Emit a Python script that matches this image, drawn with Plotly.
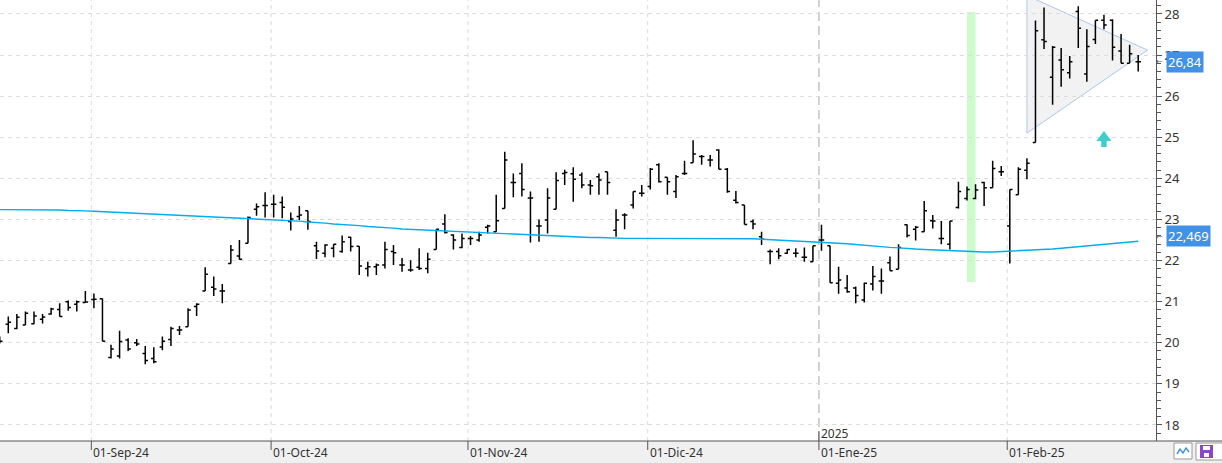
import plotly.graph_objects as go

# ---------------- data ----------------
trading_days = [
    ("2024-08", [16, 19, 20, 21, 22, 23, 26, 27, 28, 29, 30]),
    ("2024-09", [2, 3, 4, 5, 6, 9, 10, 11, 12, 13, 16, 17, 18, 19, 20, 23, 24, 25, 26, 27, 30]),
    ("2024-10", [1, 2, 3, 4, 7, 8, 9, 10, 11, 14, 15, 16, 17, 18, 21, 22, 23, 24, 25, 28, 29, 30, 31]),
    ("2024-11", [1, 4, 5, 6, 7, 8, 11, 12, 13, 14, 15, 18, 19, 20, 21, 22, 25, 26, 27, 28, 29]),
    ("2024-12", [2, 3, 4, 5, 6, 9, 10, 11, 12, 13, 16, 17, 18, 19, 20, 23, 24, 27, 30, 31]),
    ("2025-01", [2, 3, 6, 7, 8, 9, 10, 13, 14, 15, 16, 17, 20, 21, 22, 23, 24, 27, 28, 29, 30, 31]),
    ("2025-02", [3, 4, 5, 6, 7, 10, 11, 12, 13, 14, 17, 18, 19, 20, 21, 24]),
]
dates = [f"{ym}-{d:02d}" for ym, days in trading_days for d in days]

open_ = [20.10, 20.45, 20.35, 20.43, 20.46, 20.57, 20.70, 20.81, 21.00, 20.94, 20.98,
         21.05, 21.07, 19.64, 19.68, 20.07, 20.00, 19.74, 19.62, 19.90, 20.08, 20.31, 20.39, 20.88, 21.26, 21.35, 21.26, 21.93, 22.11, 22.42, 23.25, 23.34,
         23.37, 23.41, 22.95, 23.07, 23.21, 22.36, 22.18, 22.30, 22.22, 22.57, 22.35, 21.81, 21.85, 21.89, 22.22, 21.89, 21.77, 21.84, 21.81, 22.27, 22.89, 22.62, 22.32,
         22.54, 22.50, 22.81, 22.70, 23.27, 23.90, 24.12, 23.52, 22.84, 22.99, 23.25, 24.12, 24.11, 24.08, 23.84, 24.04, 24.16,
         22.74, 23.11, 23.35, 23.64, 23.80, 24.33, 24.03, 23.68, 24.12, 24.38, 24.53, 24.45, 24.69, 24.22, 23.47, 23.35, 22.95, 22.58, 22.22, 22.22, 22.18, 22.18, 22.08, 21.97,
         22.50, 22.36, 21.45, 21.33, 21.33, 21.04, 21.43, 21.50, 21.95, 21.79, 22.87, 22.76, 22.70, 22.97, 22.54, 22.40, 23.29, 23.51, 23.51, 23.90, 23.77, 24.16,
         22.84, 23.60, 24.20, 24.87, 27.37, 26.46, 26.88, 26.57, 28.06, 26.54, 27.38, 27.85, 27.85, 27.10, 26.80, 26.84]
high = [20.15, 20.64, 20.70, 20.76, 20.76, 20.70, 20.85, 20.96, 21.03, 21.03, 21.26,
        21.20, 21.08, 19.95, 20.29, 20.11, 20.09, 19.92, 19.89, 20.15, 20.39, 20.41, 20.84, 20.96, 21.84, 21.61, 21.43, 22.38, 22.50, 23.07, 23.39, 23.66,
        23.60, 23.56, 23.17, 23.33, 23.21, 22.46, 22.40, 22.40, 22.61, 22.58, 22.35, 21.97, 21.93, 22.46, 22.38, 22.06, 22.01, 22.30, 22.19, 22.76, 23.13, 22.64, 22.66,
        22.60, 22.70, 22.87, 23.60, 24.65, 24.12, 24.37, 23.68, 23.00, 23.76, 24.15, 24.21, 24.27, 24.14, 23.96, 24.12, 24.16,
        23.25, 23.15, 23.68, 23.84, 24.25, 24.37, 24.03, 24.08, 24.43, 24.93, 24.57, 24.57, 24.71, 24.25, 23.69, 23.35, 23.00, 22.70, 22.27, 22.30, 22.28, 22.30, 22.32, 22.36,
        22.87, 22.36, 21.85, 21.65, 21.37, 21.46, 21.87, 21.81, 22.10, 22.40, 22.88, 22.84, 23.45, 23.11, 22.96, 22.96, 23.92, 23.80, 23.86, 23.92, 24.43, 24.30,
        23.73, 24.27, 24.49, 27.84, 28.16, 27.22, 27.17, 26.98, 28.19, 27.63, 27.85, 27.98, 27.87, 27.51, 27.25, 27.00]
low = [19.98, 20.23, 20.33, 20.43, 20.45, 20.47, 20.68, 20.64, 20.78, 20.76, 20.98,
       20.84, 20.04, 19.62, 19.62, 19.80, 19.92, 19.48, 19.50, 19.82, 19.92, 20.19, 20.39, 20.65, 21.26, 21.14, 20.96, 21.93, 22.02, 22.42, 23.09, 23.05,
       23.05, 23.03, 22.73, 22.99, 22.75, 22.04, 22.08, 22.08, 22.19, 22.22, 21.65, 21.61, 21.65, 21.81, 21.89, 21.73, 21.73, 21.77, 21.69, 22.27, 22.66, 22.27, 22.30,
       22.38, 22.46, 22.66, 22.70, 23.27, 23.54, 23.56, 22.44, 22.46, 22.66, 23.25, 23.84, 23.43, 23.76, 23.60, 23.60, 23.60,
       22.58, 22.76, 23.27, 23.56, 23.73, 23.90, 23.60, 23.52, 24.08, 24.38, 24.33, 24.29, 24.22, 23.65, 23.39, 22.88, 22.76, 22.38, 21.91, 22.03, 22.16, 22.08, 21.97, 21.97,
       22.24, 21.46, 21.19, 21.22, 20.96, 20.98, 21.27, 21.19, 21.75, 21.79, 22.56, 22.49, 22.70, 22.78, 22.40, 22.27, 23.27, 23.46, 23.49, 23.33, 23.77, 24.06,
       21.93, 23.60, 23.98, 24.87, 27.15, 25.79, 26.23, 26.43, 27.17, 26.35, 27.27, 27.63, 26.87, 26.80, 26.80, 26.60]
close = [20.04, 20.50, 20.62, 20.72, 20.65, 20.63, 20.82, 20.64, 20.86, 21.00, 20.99,
         21.06, 20.04, 19.85, 20.03, 19.85, 19.97, 19.57, 19.54, 20.04, 20.35, 20.31, 20.80, 20.94, 21.67, 21.31, 21.26, 22.26, 22.03, 23.05, 23.31, 23.34,
         23.37, 23.30, 23.01, 23.11, 22.95, 22.23, 22.38, 22.40, 22.46, 22.34, 21.87, 21.85, 21.89, 22.27, 22.19, 21.89, 21.77, 21.81, 22.03, 22.76, 22.68, 22.50, 22.54,
         22.54, 22.62, 22.84, 22.97, 24.45, 23.90, 23.73, 23.52, 22.84, 23.52, 23.95, 24.14, 23.98, 23.84, 23.82, 23.96, 23.90,
         22.99, 23.11, 23.68, 23.64, 24.22, 23.92, 23.92, 24.04, 24.12, 24.59, 24.53, 24.45, 24.22, 23.68, 23.41, 22.88, 22.89, 22.52, 22.22, 22.12, 22.27, 22.18, 22.08, 22.36,
         22.50, 21.46, 21.53, 21.24, 21.15, 21.45, 21.61, 21.50, 21.75, 22.32, 22.61, 22.81, 23.21, 22.96, 22.54, 22.96, 23.68, 23.73, 23.72, 23.77, 24.24, 24.16,
         23.73, 24.22, 24.37, 27.59, 27.33, 27.19, 26.64, 26.84, 27.65, 27.21, 27.85, 27.73, 27.19, 26.80, 27.03, 26.84]

moving_avg = [23.24, 23.24, 23.24, 23.24, 23.23, 23.23, 23.23, 23.23, 23.22, 23.22, 23.21,
              23.20, 23.19, 23.19, 23.18, 23.17, 23.16, 23.15, 23.14, 23.13, 23.12, 23.11,
              23.09, 23.08, 23.07, 23.06, 23.05, 23.04, 23.03, 23.02, 23.01, 23.00, 22.99,
              22.98, 22.97, 22.96, 22.94, 22.93, 22.91, 22.89, 22.88, 22.86, 22.85, 22.83,
              22.82, 22.80, 22.79, 22.77, 22.76, 22.75, 22.74, 22.73, 22.72, 22.71, 22.70,
              22.69, 22.68, 22.67, 22.66, 22.66, 22.65, 22.64, 22.63, 22.62, 22.61, 22.60,
              22.59, 22.58, 22.57, 22.56, 22.56, 22.55, 22.55, 22.54, 22.54, 22.54, 22.54,
              22.53, 22.53, 22.53, 22.53, 22.53, 22.53, 22.53, 22.54, 22.54, 22.54, 22.53,
              22.53, 22.52, 22.51, 22.50, 22.49, 22.48, 22.47, 22.46, 22.45, 22.44, 22.42,
              22.41, 22.39, 22.37, 22.35, 22.34, 22.32, 22.31, 22.29, 22.28, 22.27, 22.26,
              22.25, 22.24, 22.23, 22.22, 22.21, 22.21, 22.21, 22.22, 22.22, 22.23, 22.24,
              22.25, 22.27, 22.28, 22.30, 22.32, 22.33, 22.35, 22.37, 22.39, 22.41, 22.43, 22.45, 22.469]

month_first_days = ["2024-09-02", "2024-10-01", "2024-11-01", "2024-12-02", "2025-01-02", "2025-02-03"]
month_labels = ["01-Sep-24", "01-Oct-24", "01-Nov-24", "01-Dic-24", "01-Ene-25", "01-Feb-25"]
year_label = "2025"
year_first_day = "2025-01-02"

y_ticks = [18, 19, 20, 21, 22, 23, 24, 25, 26, 27, 28]

# annotation objects drawn on the chart
highlight_days = ["2025-01-27", "2025-01-28"]     # green vertical band
highlight_price_range = [21.48, 28.05]
triangle_days = ["2025-02-05", "2025-02-24"]
triangle_prices = [28.45, 25.10, 27.12]             # top-left, bottom-left, apex
signal_day = "2025-02-18"
signal_price = 25.15

# ---------------- layout helpers ----------------
W, H = 1222, 463
ML, MR, MT, MB = 0, 66, 0, 22
PW, PH = W - ML - MR, H - MT - MB
X_RANGE = [0.03, 135.08]
Y_RANGE = [17.61, 28.34]
FONT = "Noto Sans, Open Sans, sans-serif"


def kx(d, offset=0.0):
    """paper x-fraction of a trading day's category slot (plus offset in slots)"""
    return (dates.index(d) + offset - X_RANGE[0]) / (X_RANGE[1] - X_RANGE[0])


def px_x(p):
    return p / PW


def px_y(p):
    return (PH - p) / PH


fig = go.Figure()

fig.add_trace(go.Ohlc(
    x=dates, open=open_, high=high, low=low, close=close,
    increasing=dict(line=dict(color="#000000", width=1.5)),
    decreasing=dict(line=dict(color="#000000", width=1.5)),
    tickwidth=0.32, showlegend=False, hoverinfo="skip",
))

fig.add_trace(go.Scatter(
    x=dates, y=moving_avg, mode="lines",
    line=dict(color="#00aeef", width=1.4), showlegend=False, hoverinfo="skip",
))

shapes = []
# month grid lines + ticks
for d in month_first_days:
    xp = kx(d, -0.3)
    if d == year_first_day:
        shapes.append(dict(type="line", xref="paper", yref="paper", x0=xp, x1=xp, y0=0, y1=1,
                           line=dict(color="#c4c4c4", width=1.5, dash="9px,5px"), layer="below"))
        shapes.append(dict(type="line", xref="paper", yref="paper", x0=xp, x1=xp, y0=0, y1=px_y(431),
                           line=dict(color="#555555", width=1)))
    else:
        shapes.append(dict(type="line", xref="paper", yref="paper", x0=xp, x1=xp, y0=0, y1=1,
                           line=dict(color="#dadada", width=1, dash="4px,4px"), layer="below"))
    shapes.append(dict(type="line", xref="paper", yref="paper", x0=xp, x1=xp, y0=0, y1=px_y(450),
                       line=dict(color="#555555", width=1)))

# green highlight band
shapes.append(dict(type="rect", xref="paper", yref="y",
                   x0=kx(highlight_days[0]), x1=kx(highlight_days[1]),
                   y0=highlight_price_range[0], y1=highlight_price_range[1],
                   fillcolor="#ccfbcc", line=dict(width=0), layer="below"))

# triangle pattern
t0 = kx(triangle_days[0])
t1 = kx(triangle_days[1], 1.1)
shapes.append(dict(type="path", xref="paper", yref="y",
                   path=f"M {t0},{triangle_prices[0]} L {t1},{triangle_prices[2]} L {t0},{triangle_prices[1]} Z",
                   fillcolor="#f2f2f2", line=dict(color="#a9c8ee", width=1), layer="below"))

# signal arrow (block arrow sized in pixels, anchored at the signal price)
shapes.append(dict(type="path", xref="paper", yref="y", xsizemode="pixel", ysizemode="pixel",
                   xanchor=kx(signal_day), yanchor=signal_price,
                   path="M 0,0 L 7.5,-10 L 2.7,-10 L 2.7,-16 L -2.7,-16 L -2.7,-10 L -7.5,-10 Z",
                   fillcolor="#3dcfcf", line=dict(width=0)))

# footer band and axis line
shapes.append(dict(type="rect", xref="paper", yref="paper", x0=0, x1=px_x(W), y0=px_y(H), y1=0,
                   fillcolor="#f0f0f0", line=dict(width=0), layer="below"))
shapes.append(dict(type="line", xref="paper", yref="paper", x0=0, x1=px_x(W), y0=0, y1=0,
                   line=dict(color="#555555", width=1)))

# bottom-right icons
shapes.append(dict(type="rect", xref="paper", yref="paper", x0=px_x(1174), x1=px_x(1192),
                   y0=px_y(459), y1=px_y(443), fillcolor="#ffffff", line=dict(color="#9a9a9a", width=1)))
shapes.append(dict(type="path", xref="paper", yref="paper",
                   path=(f"M {px_x(1177)},{px_y(454)} L {px_x(1180)},{px_y(449)} L {px_x(1183)},{px_y(453)} "
                         f"L {px_x(1186)},{px_y(448)} L {px_x(1189)},{px_y(452)}"),
                   line=dict(color="#4a90d9", width=1.5)))
shapes.append(dict(type="rect", xref="paper", yref="paper", x0=px_x(1196), x1=px_x(1224),
                   y0=px_y(460), y1=px_y(443), fillcolor="#ffffff", line=dict(color="#9a9a9a", width=1)))
shapes.append(dict(type="rect", xref="paper", yref="paper", x0=px_x(1200), x1=px_x(1213),
                   y0=px_y(458), y1=px_y(445), fillcolor="#8b46c6", line=dict(width=0)))
shapes.append(dict(type="rect", xref="paper", yref="paper", x0=px_x(1203), x1=px_x(1210),
                   y0=px_y(450), y1=px_y(446), fillcolor="#ffffff", line=dict(width=0)))
shapes.append(dict(type="rect", xref="paper", yref="paper", x0=px_x(1204), x1=px_x(1209),
                   y0=px_y(457), y1=px_y(453), fillcolor="#ffffff", line=dict(width=0)))

annotations = []
for d, lab in zip(month_first_days, month_labels):
    annotations.append(dict(x=kx(d, -0.3), xref="paper", y=px_y(452), yref="paper", text=lab,
                            showarrow=False, xanchor="left", yanchor="middle",
                            font=dict(family=FONT, size=12, color="#333333")))
annotations.append(dict(x=kx(year_first_day, -0.3), xref="paper", y=px_y(433), yref="paper", text=year_label,
                        showarrow=False, xanchor="left", yanchor="middle",
                        font=dict(family=FONT, size=12, color="#333333")))

# last value labels
last_close = close[-1]
last_ma = moving_avg[-1]
for val, txt, ys in [(last_close, f"{last_close:.2f}".replace(".", ","), 0),
                     (last_ma, f"{last_ma:.3f}".replace(".", ","), 5)]:
    annotations.append(dict(x=px_x(1164), xref="paper", y=val, yref="y", yshift=ys, text="←",
                            showarrow=False, xanchor="right", yanchor="middle", borderpad=0,
                            font=dict(family="DejaVu Sans", size=8, color="#555555")))
    annotations.append(dict(x=px_x(1166), xref="paper", y=val, yref="y", yshift=ys, text=txt,
                            showarrow=False, xanchor="left", yanchor="middle",
                            bgcolor="#4191e6", borderpad=1,
                            font=dict(family=FONT, size=13, color="#ffffff")))

fig.update_layout(
    template="none",
    width=W, height=H,
    margin=dict(l=ML, r=MR, t=MT, b=MB, pad=0),
    paper_bgcolor="#ffffff", plot_bgcolor="#ffffff",
    showlegend=False,
    shapes=shapes, annotations=annotations,
    xaxis=dict(type="category", range=X_RANGE, showgrid=False, showticklabels=False,
               showline=False, zeroline=False,
               rangeslider=dict(visible=False), fixedrange=True),
    yaxis=dict(side="right", range=Y_RANGE, tickmode="array", tickvals=y_ticks,
               showgrid=True, gridcolor="#dcdcdc", griddash="4px,4px", gridwidth=1,
               ticks="outside", ticklen=5, tickcolor="#555555", tickwidth=1,
               showline=True, linecolor="#555555", linewidth=1, zeroline=False,
               tickfont=dict(family=FONT, size=13, color="#333333"),
               minor=dict(dtick=0.2, tick0=0, ticks="outside", ticklen=4, tickcolor="#555555", showgrid=False),
               fixedrange=True),
)

fig.write_html("out.html")
